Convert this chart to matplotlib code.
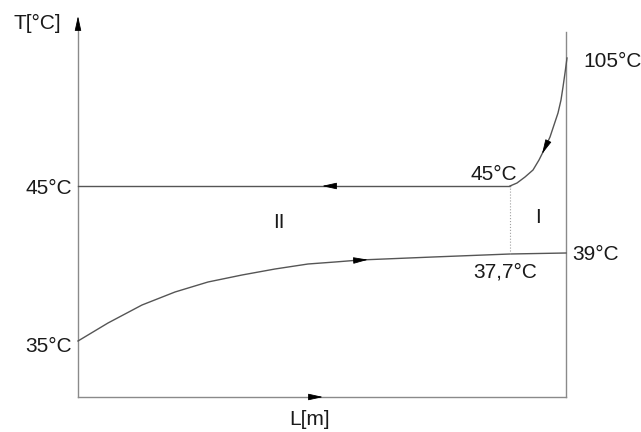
import numpy as np
import matplotlib
matplotlib.use("Agg")
import matplotlib.pyplot as plt

plt.rcParams['font.family'] = ['Liberation Sans', 'DejaVu Sans']

# schematic drawing units: L along the exchanger, h = height of the temperature level
L_end = 488          # right wall of the exchanger
L_split = 432        # border between zone II and zone I

# hot stream: 105°C -> 45°C (curved part), then flat at 45°C
hot_L = np.array([489, 487, 485, 483, 480, 476, 472, 467, 461, 455, 447, 439, 432])
hot_h = np.array([339, 324, 310, 297, 284, 272, 260, 249, 237, 227, 220, 214, 211])
h45 = 211

# cold stream: 35°C -> 37,7°C -> 39°C
cold_L = np.array([0, 30, 64, 97, 130, 164, 197, 230, 257, 282, 355, 432, 488])
cold_h = np.array([56, 74, 92, 105, 115, 122, 128, 133, 135, 137, 140, 143, 144])

axis_color = "#8a8a8a"
curve_color = "#555555"
txt_color = "#1a1a1a"

fig = plt.figure(figsize=(6.41, 4.32), dpi=100)
ax = fig.add_axes([0, 0, 1, 1])
ax.set_xlim(-78, 563)
ax.set_ylim(-35, 397)
ax.axis("off")


def head(tip, tail):
    ax.annotate("", xy=tip, xytext=tail,
                arrowprops=dict(arrowstyle="-|>,head_length=0.9,head_width=0.2",
                                color="black", lw=0.6, shrinkA=0, shrinkB=0,
                                mutation_scale=10))


# axes and wall
ax.plot([0, 0], [0, 370], color=axis_color, lw=1.0)
ax.plot([0, L_end], [0, 0], color=axis_color, lw=1.0)
ax.plot([L_end, L_end], [0, 365], color=axis_color, lw=1.0)
head((0, 381), (0, 368))
head((245, 0), (232, 0))

# hot stream
ax.plot(hot_L, hot_h, color=curve_color, lw=1.0)
ax.plot([0, L_split], [h45, h45], color=curve_color, lw=1.0)
tip_h = 243
tip = (np.interp(tip_h, hot_h[::-1], hot_L[::-1]), tip_h)
tail = (np.interp(tip_h + 10, hot_h[::-1], hot_L[::-1]), tip_h + 10)
head(tip, tail)
head((244, h45), (258, h45))

# cold stream
ax.plot(cold_L, cold_h, color=curve_color, lw=1.0)
tip = (290, np.interp(290, cold_L, cold_h))
tail = (276, np.interp(276, cold_L, cold_h))
head(tip, tail)

# zone border
ax.plot([L_split, L_split], [np.interp(L_split, cold_L, cold_h), h45],
        color="#a0a0a0", lw=0.8, ls=":")

fs = 15
ax.text(-65, 368, "T[°C]", fontsize=fs, color=txt_color, ha="left", va="baseline")
ax.text(505, 330, "105°C", fontsize=fs, color=txt_color, ha="left", va="baseline")
ax.text(-6, 203, "45°C", fontsize=fs, color=txt_color, ha="right", va="baseline")
ax.text(439, 217, "45°C", fontsize=fs, color=txt_color, ha="right", va="baseline")
ax.text(201, 169, "II", fontsize=fs, color=txt_color, ha="center", va="baseline")
ax.text(460, 174, "I", fontsize=fs, color=txt_color, ha="center", va="baseline")
ax.text(494, 137, "39°C", fontsize=fs, color=txt_color, ha="left", va="baseline")
ax.text(427, 120, "37,7°C", fontsize=fs, color=txt_color, ha="center", va="baseline")
ax.text(-6, 45, "35°C", fontsize=fs, color=txt_color, ha="right", va="baseline")
ax.text(232, -28, "L[m]", fontsize=fs, color=txt_color, ha="center", va="baseline")

fig.savefig("out.png", dpi=100, facecolor="white")
